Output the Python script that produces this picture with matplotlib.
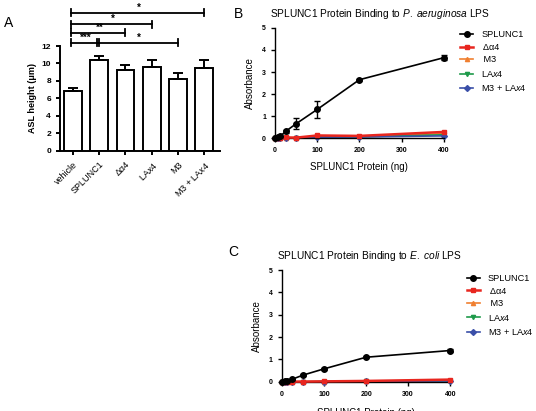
import matplotlib
matplotlib.use('Agg')
import matplotlib.pyplot as plt
import numpy as np

plt.rcParams['font.family'] = ['Liberation Sans', 'DejaVu Sans']
plt.rcParams['mathtext.fontset'] = 'custom'
plt.rcParams['mathtext.rm'] = 'Liberation Sans'
plt.rcParams['mathtext.it'] = 'Liberation Sans:italic'

# panel A data
groups = ['vehicle', 'SPLUNC1', 'Δα4', 'LA$x$4', 'M3', 'M3 + LA$x$4']
asl_mean = [6.9, 10.4, 9.3, 9.6, 8.2, 9.5]
asl_err = [0.3, 0.5, 0.5, 0.8, 0.7, 0.9]
# (from, to, label, height)
sig_bars = [(0, 5, '*', 15.8), (0, 3, '*', 14.5), (0, 2, '**', 13.5),
            (0, 1, '***', 12.35), (1, 4, '*', 12.35)]

# panel B / C data
protein_ng = [0, 6.25, 12.5, 25, 50, 100, 200, 400]
series_names = ['SPLUNC1', ' Δα4', ' M3', 'LA$x$4', 'M3 + LA$x$4']
series_colors = ['black', '#e8261f', '#f07f30', '#1e9a4a', '#3a4fa8']
series_markers = ['o', 's', '^', 'v', 'D']

pa_vals = [
    [0, 0.03, 0.08, 0.3, 0.65, 1.3, 2.65, 3.65],
    [0, 0.0, 0.02, 0.03, 0.02, 0.12, 0.1, 0.28],
    [0, 0.0, 0.01, 0.02, 0.02, 0.08, 0.08, 0.2],
    [0, 0.0, 0.01, 0.01, 0.01, 0.06, 0.06, 0.15],
    [0, 0.0, 0.0, 0.01, 0.01, 0.04, 0.05, 0.1],
]
pa_err = [0, 0.02, 0.03, 0.08, 0.25, 0.4, 0.05, 0.12]

ec_vals = [
    [0, 0.02, 0.05, 0.12, 0.3, 0.58, 1.1, 1.4],
    [0, 0.0, 0.0, 0.01, 0.01, 0.02, 0.04, 0.1],
    [0, 0.0, 0.0, 0.0, 0.01, 0.01, 0.03, 0.07],
    [0, 0.0, 0.0, 0.0, 0.0, 0.01, 0.02, 0.05],
    [0, 0.0, 0.0, 0.0, 0.0, 0.01, 0.02, 0.04],
]
ec_err = [0, 0.01, 0.01, 0.02, 0.03, 0.04, 0.04, 0.05]

fig = plt.figure(figsize=(5.36, 4.11), dpi=100)


def prism(ax, lw=1.0):
    ax.spines['top'].set_visible(False)
    ax.spines['right'].set_visible(False)
    ax.spines['left'].set_linewidth(lw)
    ax.spines['bottom'].set_linewidth(lw)
    ax.tick_params(direction='out', width=lw, length=3, labelsize=5)
    for lab in ax.get_xticklabels() + ax.get_yticklabels():
        lab.set_fontweight('bold')


# ---- panel A
axA = fig.add_axes([0.112, 0.633, 0.298, 0.255])
ind = np.arange(len(groups))
axA.bar(ind, asl_mean, 0.68, color='white', edgecolor='black', linewidth=1.4,
        zorder=2)
axA.errorbar(ind, asl_mean, yerr=[np.zeros(len(ind)), asl_err], fmt='none',
             ecolor='black', elinewidth=1.4, capsize=3.5, capthick=1.4,
             zorder=3)
axA.set_xlim(-0.5, 5.6)
axA.set_ylim(0, 12)
axA.set_yticks(np.arange(0, 13, 2))
axA.set_xticks(ind)
axA.set_xticklabels(groups, rotation=45, ha='right', rotation_mode='anchor')
axA.set_ylabel('ASL height (μm)', fontsize=6.5, fontweight='bold', labelpad=3)
prism(axA, 1.4)
axA.tick_params(axis='x', labelsize=6.5)
axA.tick_params(axis='y', labelsize=6)
for lab in axA.get_xticklabels():
    lab.set_fontweight('normal')

for a, b, txt, h in sig_bars:
    axA.plot([a - 0.08, b], [h, h], color='black', lw=1.3, clip_on=False)
    axA.plot([a - 0.08, a - 0.08], [h - 0.4, h + 0.4], color='black', lw=1.3,
             clip_on=False)
    axA.plot([b, b], [h - 0.4, h + 0.4], color='black', lw=1.3,
             clip_on=False)
    axA.text((a + b) / 2, h, txt, ha='center', va='bottom', fontsize=7,
             fontweight='bold', clip_on=False)
fig.text(0.008, 0.945, 'A', fontsize=10, va='center')


def binding_panel(rect, vals, err, title, letter, letter_xy, leg_xy,
                  xlabel_pad):
    ax = fig.add_axes(rect)
    order = [4, 3, 2, 1, 0]
    handles = {}
    for i in order:
        if i == 0:
            ax.errorbar(protein_ng, vals[i], yerr=err, fmt='none',
                        ecolor=series_colors[i], capsize=2.5, elinewidth=1.0,
                        capthick=1.0, zorder=5, clip_on=False)
            h, = ax.plot(protein_ng, vals[i], color=series_colors[i],
                         marker=series_markers[i], ms=4, lw=1.2, zorder=6,
                         clip_on=False)
        else:
            h, = ax.plot(protein_ng, vals[i], color=series_colors[i],
                         marker=series_markers[i], ms=3.5 if i == 1 else 3,
                         lw=1.8 if i == 1 else 1.2,
                         zorder=2 + i * 0.1 if i > 1 else 4, clip_on=False)
        handles[i] = h
    ax.set_xlim(0, 400)
    ax.set_ylim(0, 5)
    ax.set_xticks([0, 100, 200, 300, 400])
    ax.set_yticks([0, 1, 2, 3, 4, 5])
    ax.set_ylabel('Absorbance', fontsize=7, labelpad=5)
    ax.set_xlabel('SPLUNC1 Protein (ng)', fontsize=7, labelpad=xlabel_pad)
    ax.set_title(title, fontsize=7.3, loc='left', x=-0.03, pad=8)
    prism(ax, 1.0)
    ax.legend([handles[k] for k in range(5)], series_names,
              loc='upper left', bbox_to_anchor=leg_xy,
              bbox_transform=fig.transFigure, frameon=False, fontsize=6.6,
              handlelength=1.4, labelspacing=0.38, handletextpad=0.9,
              borderaxespad=0)
    fig.text(letter_xy[0], letter_xy[1], letter, fontsize=10, va='center')
    return ax


binding_panel([0.513, 0.664, 0.315, 0.268], pa_vals, pa_err,
              r'SPLUNC1 Protein Binding to $\it{P.\ aeruginosa}$ LPS', 'B',
              (0.437, 0.966), (0.852, 0.935), 6)
binding_panel([0.526, 0.071, 0.314, 0.272], ec_vals, ec_err,
              r'SPLUNC1 Protein Binding to $\it{E.\ coli}$ LPS', 'C',
              (0.425, 0.386), (0.864, 0.342), 7)

fig.savefig('out.png', dpi=100)
